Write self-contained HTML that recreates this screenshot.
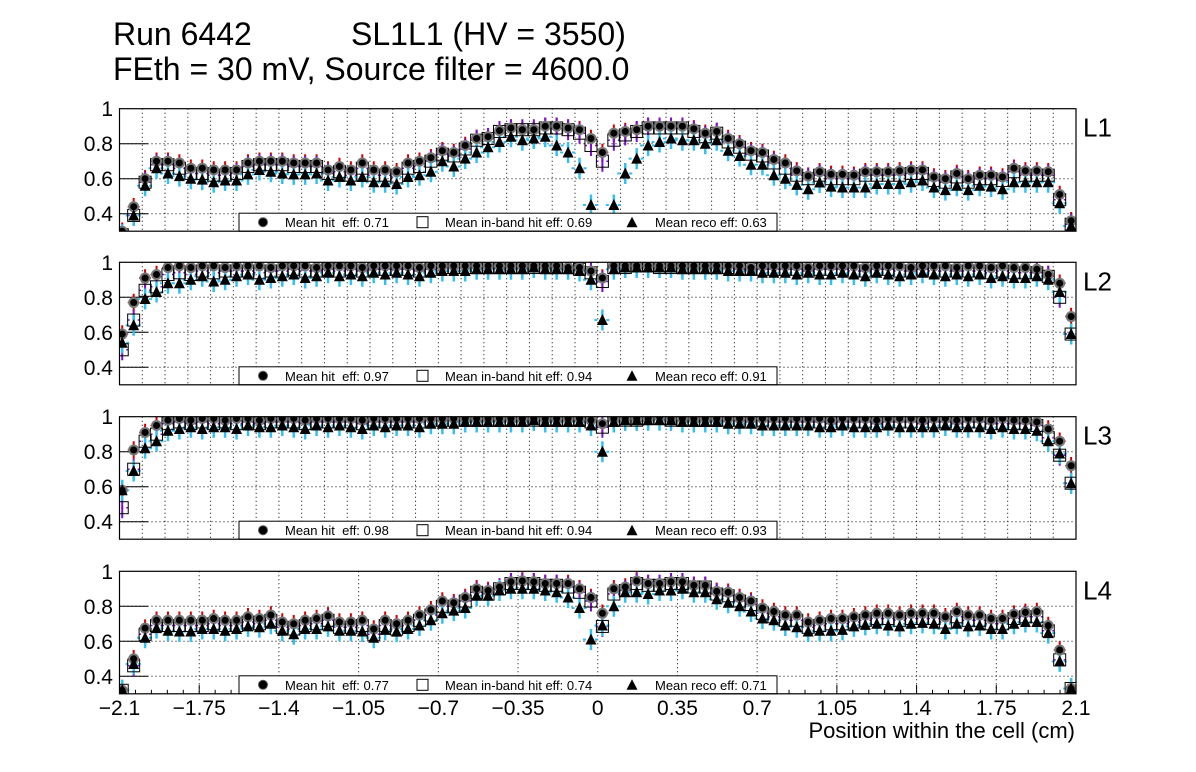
<!DOCTYPE html>
<html><head><meta charset="utf-8">
<style>
html,body{margin:0;padding:0;background:#fff;}
svg{display:block;font-family:"Liberation Sans",Arial,sans-serif;}
text{white-space:pre;}
</style></head>
<body>
<svg id="chart" width="1196" height="772" viewBox="0 0 1196 772" xmlns="http://www.w3.org/2000/svg">
<rect x="0" y="0" width="1196" height="772" fill="#fff"/>
<text x="113" y="45" font-size="32">Run 6442</text>
<text x="351" y="45" font-size="32">SL1L1 (HV = 3550)</text>
<text x="113" y="80" font-size="32">FEth = 30 mV, Source filter = 4600.0</text>
<text x="1075" y="738" font-size="22" text-anchor="end">Position within the cell (cm)</text>
<g id="panels"></g>
</svg>
<script>
const layers = ["L1","L2","L3","L4"];
const meanHit = [0.71, 0.97, 0.98, 0.77];
const meanInband = [0.69, 0.94, 0.94, 0.74];
const meanReco = [0.63, 0.91, 0.93, 0.71];
const xTickLabels = ["\u22122.1","\u22121.75","\u22121.4","\u22121.05","\u22120.7","\u22120.35","0","0.35","0.7","1.05","1.4","1.75","2.1"];
const xTickValues = [-2.1,-1.75,-1.4,-1.05,-0.7,-0.35,0,0.35,0.7,1.05,1.4,1.75,2.1];
const yTickValues = [0.4,0.6,0.8,1];
const yTickLabels = ["0.4","0.6","0.8","1"];
const binStart = -2.088, binWidth = 0.0502;

const hitL1 = [0.30,0.44,0.60,0.70,0.70,0.69,0.66,0.66,0.65,0.65,
0.65,0.69,0.70,0.70,0.70,0.69,0.69,0.69,0.65,0.67,
0.65,0.69,0.65,0.65,0.64,0.69,0.70,0.72,0.76,0.75,
0.79,0.83,0.84,0.875,0.89,0.88,0.88,0.90,0.90,0.89,
0.88,0.83,0.75,0.86,0.87,0.88,0.90,0.90,0.90,0.90,
0.885,0.86,0.87,0.83,0.80,0.76,0.75,0.71,0.69,0.645,
0.615,0.64,0.625,0.625,0.62,0.64,0.64,0.64,0.645,0.65,
0.65,0.61,0.60,0.63,0.60,0.62,0.62,0.61,0.66,0.645,
0.645,0.64,0.51,0.36];
const inbandL1 = [0.28,0.39,0.58,0.68,0.68,0.66,0.63,0.63,0.62,0.62,
0.63,0.67,0.68,0.68,0.68,0.67,0.67,0.67,0.63,0.64,
0.62,0.66,0.62,0.62,0.61,0.66,0.67,0.70,0.74,0.73,
0.77,0.82,0.83,0.87,0.88,0.88,0.88,0.89,0.89,0.88,
0.86,0.79,0.70,0.82,0.85,0.87,0.89,0.89,0.89,0.89,
0.87,0.84,0.86,0.81,0.78,0.74,0.73,0.69,0.66,0.62,
0.60,0.62,0.60,0.60,0.60,0.62,0.62,0.62,0.62,0.63,
0.63,0.59,0.58,0.61,0.58,0.60,0.60,0.59,0.64,0.62,
0.62,0.62,0.48,0.34];
const recoL1 = [0.28,0.39,0.56,0.66,0.63,0.615,0.60,0.595,0.58,0.59,
0.59,0.625,0.65,0.64,0.63,0.625,0.625,0.63,0.59,0.61,
0.59,0.61,0.58,0.58,0.57,0.61,0.62,0.64,0.70,0.67,
0.715,0.75,0.78,0.81,0.84,0.82,0.83,0.84,0.79,0.75,
0.66,0.45,0.20,0.45,0.63,0.715,0.79,0.81,0.83,0.82,
0.82,0.80,0.82,0.76,0.73,0.68,0.68,0.62,0.60,0.565,
0.54,0.578,0.555,0.55,0.55,0.55,0.57,0.57,0.57,0.58,
0.59,0.55,0.535,0.56,0.535,0.56,0.555,0.54,0.58,0.58,
0.58,0.58,0.46,0.33];

const hitL2 = [0.59,0.77,0.91,0.93,0.97,0.98,0.97,0.98,0.98,0.97,
0.98,0.98,0.98,0.97,0.98,0.98,0.98,0.97,0.98,0.98,
0.98,0.97,0.98,0.98,0.98,0.98,0.97,0.98,0.98,0.98,
0.98,0.98,0.98,0.98,0.98,0.98,0.98,0.98,0.98,0.97,
0.97,0.95,0.91,0.98,0.98,0.98,0.98,0.98,0.98,0.98,
0.98,0.98,0.98,0.98,0.98,0.97,0.98,0.98,0.98,0.98,
0.97,0.98,0.98,0.98,0.98,0.97,0.98,0.98,0.98,0.97,
0.98,0.98,0.98,0.97,0.98,0.98,0.97,0.98,0.97,0.97,
0.96,0.93,0.88,0.69];
const inbandL2 = [0.50,0.67,0.84,0.86,0.93,0.94,0.93,0.95,0.94,0.95,
0.95,0.95,0.94,0.95,0.95,0.96,0.95,0.95,0.96,0.95,
0.96,0.95,0.96,0.96,0.96,0.96,0.95,0.96,0.97,0.97,
0.97,0.97,0.97,0.97,0.97,0.97,0.97,0.97,0.97,0.97,
0.96,0.94,0.89,0.97,0.97,0.98,0.98,0.97,0.97,0.97,
0.97,0.97,0.97,0.97,0.96,0.96,0.96,0.96,0.96,0.96,
0.95,0.96,0.96,0.96,0.95,0.95,0.96,0.96,0.95,0.95,
0.96,0.95,0.95,0.95,0.95,0.95,0.94,0.95,0.94,0.94,
0.94,0.92,0.80,0.59];
const recoL2 = [0.54,0.64,0.79,0.83,0.88,0.88,0.90,0.92,0.89,0.90,
0.92,0.93,0.90,0.91,0.92,0.93,0.91,0.92,0.94,0.92,
0.93,0.92,0.94,0.93,0.94,0.93,0.92,0.94,0.95,0.95,
0.95,0.96,0.96,0.96,0.96,0.96,0.97,0.96,0.96,0.96,
0.95,0.90,0.67,0.96,0.97,0.97,0.97,0.97,0.97,0.96,
0.96,0.96,0.96,0.95,0.95,0.95,0.94,0.94,0.94,0.93,
0.94,0.93,0.93,0.94,0.93,0.92,0.94,0.93,0.92,0.93,
0.94,0.93,0.92,0.93,0.92,0.93,0.91,0.92,0.91,0.91,
0.92,0.90,0.83,0.59];

const hitL3 = [0.58,0.81,0.91,0.95,0.98,0.99,0.98,0.99,0.99,0.98,
0.99,0.99,0.98,0.99,0.99,0.99,0.98,0.99,0.99,0.99,
0.99,0.98,0.99,0.99,0.99,0.99,0.99,0.99,0.99,0.99,
0.99,0.99,0.99,0.99,0.99,0.99,0.99,0.99,0.99,0.99,
0.99,0.98,0.96,0.99,0.99,0.99,0.99,1.00,0.99,0.99,
0.99,0.99,0.99,0.99,0.99,0.99,0.99,0.99,0.99,0.99,
0.99,0.99,0.98,0.99,0.99,0.99,0.98,0.99,0.99,0.99,
0.98,0.99,0.99,0.98,0.99,0.99,0.98,0.99,0.98,0.98,
0.97,0.93,0.86,0.72];
const inbandL3 = [0.48,0.70,0.86,0.90,0.96,0.97,0.96,0.97,0.96,0.97,
0.96,0.97,0.96,0.97,0.97,0.97,0.96,0.97,0.97,0.97,
0.97,0.96,0.97,0.97,0.97,0.97,0.97,0.98,0.98,0.98,
0.98,0.98,0.98,0.98,0.98,0.98,0.98,0.98,0.98,0.98,
0.98,0.97,0.94,0.98,0.98,0.98,0.99,0.99,0.98,0.98,
0.98,0.98,0.98,0.98,0.98,0.97,0.98,0.97,0.97,0.97,
0.97,0.97,0.96,0.97,0.97,0.97,0.96,0.97,0.97,0.97,
0.96,0.97,0.97,0.96,0.97,0.97,0.96,0.96,0.96,0.96,
0.95,0.88,0.78,0.62];
const recoL3 = [0.58,0.69,0.82,0.86,0.92,0.93,0.94,0.93,0.94,0.94,
0.93,0.95,0.94,0.94,0.95,0.94,0.93,0.95,0.94,0.95,
0.94,0.93,0.95,0.94,0.95,0.95,0.94,0.96,0.96,0.96,
0.97,0.97,0.97,0.97,0.97,0.97,0.98,0.97,0.97,0.97,
0.97,0.95,0.80,0.97,0.98,0.98,0.98,0.98,0.98,0.97,
0.97,0.97,0.97,0.96,0.96,0.96,0.95,0.95,0.95,0.95,
0.95,0.94,0.94,0.95,0.94,0.94,0.94,0.95,0.94,0.94,
0.94,0.94,0.95,0.94,0.94,0.94,0.93,0.94,0.93,0.93,
0.92,0.86,0.79,0.62];

const hitL4 = [0.32,0.50,0.675,0.72,0.72,0.72,0.72,0.72,0.73,0.72,
0.72,0.74,0.73,0.75,0.71,0.70,0.72,0.73,0.745,0.71,
0.71,0.72,0.67,0.72,0.70,0.72,0.75,0.78,0.83,0.82,
0.85,0.90,0.89,0.91,0.94,0.945,0.94,0.93,0.93,0.93,
0.90,0.85,0.76,0.90,0.91,0.945,0.93,0.93,0.94,0.94,
0.92,0.92,0.885,0.88,0.85,0.83,0.79,0.77,0.75,0.75,
0.71,0.72,0.73,0.73,0.74,0.75,0.76,0.76,0.75,0.76,
0.76,0.76,0.74,0.77,0.75,0.75,0.73,0.73,0.755,0.765,
0.77,0.69,0.55,0.33];
const inbandL4 = [0.32,0.46,0.64,0.69,0.69,0.69,0.69,0.69,0.70,0.69,
0.69,0.71,0.70,0.72,0.68,0.67,0.69,0.70,0.72,0.68,
0.68,0.69,0.64,0.69,0.67,0.69,0.72,0.75,0.80,0.80,
0.83,0.88,0.87,0.90,0.93,0.93,0.93,0.92,0.92,0.91,
0.88,0.83,0.685,0.87,0.89,0.93,0.92,0.92,0.93,0.93,
0.91,0.91,0.87,0.86,0.83,0.81,0.76,0.74,0.72,0.72,
0.68,0.69,0.70,0.70,0.71,0.72,0.73,0.73,0.72,0.73,
0.73,0.73,0.71,0.74,0.72,0.72,0.70,0.70,0.73,0.74,
0.74,0.66,0.494,0.33];
const recoL4 = [0.32,0.47,0.62,0.675,0.66,0.656,0.656,0.67,0.67,0.66,
0.67,0.685,0.68,0.70,0.66,0.64,0.67,0.67,0.685,0.66,
0.66,0.656,0.62,0.665,0.655,0.67,0.69,0.72,0.76,0.775,
0.79,0.86,0.86,0.89,0.90,0.90,0.90,0.89,0.88,0.85,
0.79,0.61,0.69,0.80,0.88,0.88,0.87,0.89,0.89,0.90,
0.88,0.88,0.84,0.82,0.80,0.77,0.73,0.72,0.69,0.68,
0.656,0.66,0.66,0.665,0.685,0.694,0.70,0.69,0.685,0.70,
0.705,0.70,0.67,0.70,0.685,0.69,0.67,0.67,0.70,0.71,
0.71,0.647,0.485,0.33];

const hitSeries = [hitL1, hitL2, hitL3, hitL4];
const inbandSeries = [inbandL1, inbandL2, inbandL3, inbandL4];
const recoSeries = [recoL1, recoL2, recoL3, recoL4];

const NS = "http://www.w3.org/2000/svg";
const X0 = 119.5, X1 = 1076, XMIN = -2.1, XMAX = 2.1;
const panelTops = [108.7, 262.3, 416.7, 571.3];
const panelH = 122.5;
const PXU = 175;
function xs(v){ return X0 + (v - XMIN) * (X1 - X0) / (XMAX - XMIN); }
function mk(tag, attrs, parent){
  const el = document.createElementNS(NS, tag);
  for (const k in attrs) el.setAttribute(k, attrs[k]);
  parent.appendChild(el);
  return el;
}
const root = document.getElementById("panels");

for (let p = 0; p < 4; p++){
  const top = panelTops[p], bot = top + panelH;
  const ys = v => top + (1 - v) * PXU;
  const g = mk("g", {}, root);
  
  
  const cid = "clip" + p;
  const cp = mk("clipPath", {id: cid}, g);
  mk("rect", {x: X0, y: top, width: X1 - X0, height: panelH}, cp);

  const grid = mk("g", {stroke: "#000", "stroke-width": 1, "stroke-dasharray": "1,3"}, g);
  
  
  if (p < 3){
    for (let k = 1; k < 42; k++){
      const gx = xs(XMIN + k * 0.1);
      mk("line", {x1: gx, x2: gx, y1: top, y2: bot}, grid);
    }
  } else {
    for (let k = 1; k < xTickValues.length - 1; k++){
      const gx = xs(xTickValues[k]);
      mk("line", {x1: gx, x2: gx, y1: top, y2: bot}, grid);
    }
  }
  for (let k = 0; k < 3; k++){
    const gy = ys(yTickValues[k]);
    mk("line", {x1: X0, x2: X1, y1: gy, y2: gy}, grid);
  }
  for (let k = 0; k < yTickValues.length; k++){
    const gy = ys(yTickValues[k]);
    if (k < 3) mk("line", {x1: X0, x2: X0 + 29, y1: gy, y2: gy, stroke: "#000", "stroke-width": 1}, g);
    const t = mk("text", {x: 113, y: gy + 7.5, "font-size": 21, "text-anchor": "end"}, g);
    t.textContent = yTickLabels[k];
    
    
  }
  if (p === 3){
    for (let k = 0; k <= 60; k++){
      const v = XMIN + k * 0.07;
      const tx = xs(v);
      const len = (k % 5 === 0) ? 9 : 4;
      mk("line", {x1: tx, x2: tx, y1: bot, y2: bot - len, stroke: "#000", "stroke-width": 1}, g);
    }
    for (let k = 0; k < xTickValues.length; k++){
      const t = mk("text", {x: xs(xTickValues[k]), y: 715, "font-size": 21, "text-anchor": "middle"}, g);
      t.textContent = xTickLabels[k];
      
      
    }
  }

  const hit = hitSeries[p], inb = inbandSeries[p], rec = recoSeries[p];
  const dg = mk("g", {"clip-path": "url(#" + cid + ")"}, g);
  
  
  const n = hit.length;
  const cx = i => xs(binStart + i * binWidth);
  for (let i = 0; i < n; i++){
    const x = cx(i), y = ys(hit[i]);
    mk("line", {x1: x, x2: x, y1: ys(hit[i] + 0.05), y2: ys(hit[i] - 0.05), stroke: "#d00000", "stroke-width": 2}, dg);
    mk("line", {x1: x - 6, x2: x + 6, y1: y, y2: y, stroke: "#d00000", "stroke-width": 1.5}, dg);
  }
  for (let i = 0; i < n; i++){
    const x = cx(i), y = ys(inb[i]);
    mk("line", {x1: x, x2: x, y1: ys(inb[i] + 0.06), y2: ys(inb[i] - 0.06), stroke: "#7a10d0", "stroke-width": 2}, dg);
    mk("line", {x1: x - 6, x2: x + 6, y1: y, y2: y, stroke: "#7a10d0", "stroke-width": 1.5, "stroke-dasharray": "2,3"}, dg);
  }
  for (let i = 0; i < n; i++){
    const x = cx(i), y = ys(rec[i]);
    mk("line", {x1: x, x2: x, y1: ys(rec[i] + 0.06), y2: ys(rec[i] - 0.06), stroke: "#33c0f0", "stroke-width": 2.5}, dg);
    mk("line", {x1: x - 8, x2: x + 8, y1: y, y2: y, stroke: "#33c0f0", "stroke-width": 2, "stroke-dasharray": "3,3"}, dg);
  }
  for (let i = 0; i < n; i++){
    const x = cx(i), y = ys(inb[i]);
    const s = mk("rect", {x: x - 6, y: y - 6, width: 12, height: 12, fill: "none", stroke: "#000", "stroke-width": 1}, dg);
    
    
  }
  for (let i = 0; i < n; i++){
    const x = cx(i), y = ys(hit[i]);
    const c = mk("circle", {cx: x, cy: y, r: 4.5, fill: "#000", stroke: "#777", "stroke-width": 2}, dg);
    
    
  }
  for (let i = 0; i < n; i++){
    const x = cx(i), y = ys(rec[i]);
    const tr = mk("polygon", {points: (x - 5.5) + "," + (y + 5) + " " + (x + 5.5) + "," + (y + 5) + " " + x + "," + (y - 6), fill: "#000"}, dg);
    
    
  }

  const lg = mk("g", {}, g);
  
  
  const ly = bot - 18;
  mk("rect", {x: 239, y: ly, width: 538, height: 18, fill: "#fff", stroke: "#000", "stroke-width": 1}, lg);
  const my = ly + 9;
  mk("circle", {cx: 263, cy: my, r: 4.5, fill: "#000", stroke: "#555", "stroke-width": 1}, lg);
  const t1 = mk("text", {x: 285, y: my + 5, "font-size": 13}, lg);
  t1.textContent = "Mean hit  eff: " + meanHit[p].toFixed(2);
  
  
  mk("rect", {x: 417, y: my - 5.5, width: 11, height: 11, fill: "none", stroke: "#000", "stroke-width": 1}, lg);
  const t2 = mk("text", {x: 445, y: my + 5, "font-size": 13}, lg);
  t2.textContent = "Mean in-band hit eff: " + meanInband[p].toFixed(2);
  
  
  mk("polygon", {points: (632 - 5.5) + "," + (my + 5) + " " + (632 + 5.5) + "," + (my + 5) + " 632," + (my - 5.5), fill: "#000"}, lg);
  const t3 = mk("text", {x: 655, y: my + 5, "font-size": 13}, lg);
  t3.textContent = "Mean reco eff: " + meanReco[p].toFixed(2);
  
  

  const fr = mk("rect", {x: X0, y: top, width: X1 - X0, height: panelH, fill: "none", stroke: "#000", "stroke-width": 1.2}, g);
  
  
  const ll = mk("text", {x: 1083, y: top + 28, "font-size": 26}, g);
  ll.textContent = layers[p];
  
  
}
</script>
</body></html>
